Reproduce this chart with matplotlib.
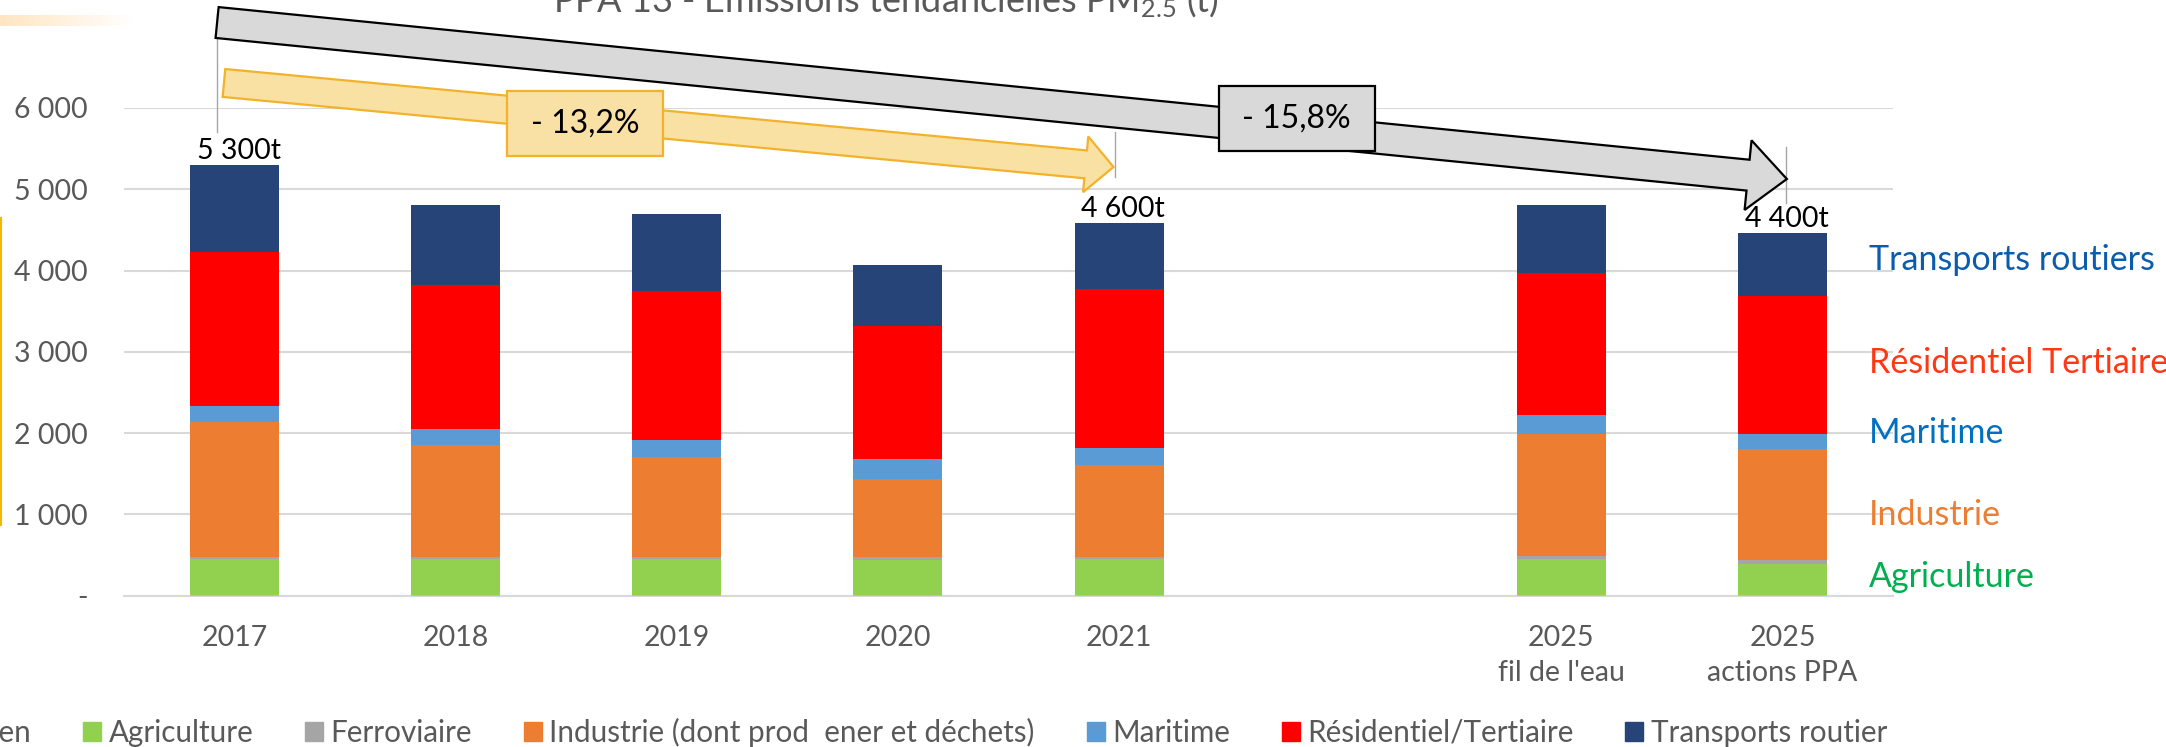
import numpy as np
import matplotlib.pyplot as plt
from matplotlib.patches import Polygon, Rectangle, Patch
from matplotlib.lines import Line2D
from matplotlib.transforms import IdentityTransform

plt.rcParams['font.family'] = ['Lato', 'DejaVu Sans']
plt.rcParams['mathtext.fontset'] = 'custom'
plt.rcParams['mathtext.rm'] = 'Lato'
plt.rcParams['mathtext.it'] = 'Lato:italic'

# ---- data (t of PM2.5) ----
categories = ["2017", "2018", "2019", "2020", "2021", "", "2025\nfil de l'eau", "2025\nactions PPA"]
aerien      = [3, 3, 3, 2, 3, 0, 3, 3]
agriculture = [443, 445, 445, 433, 441, 0, 445, 381]
ferroviaire = [33, 25, 25, 37, 29, 0, 41, 49]
industrie   = [1660, 1374, 1231, 964, 1136, 0, 1498, 1366]
maritime    = [189, 201, 204, 242, 209, 0, 229, 193]
residentiel = [1902, 1773, 1843, 1637, 1954, 0, 1752, 1697]
transports  = [1063, 984, 943, 751, 816, 0, 841, 767]

total_labels = {0: "5 300t", 4: "4 600t", 7: "4 400t"}

series_names = ["Aérien", "Agriculture", "Ferroviaire", "Industrie (dont prod  ener et déchets)",
                "Maritime", "Résidentiel/Tertiaire", "Transports routier"]
series_vals = [aerien, agriculture, ferroviaire, industrie, maritime, residentiel, transports]
series_cols = ["#FFC000", "#92D050", "#A5A5A5", "#ED7D31", "#5B9BD5", "#FF0000", "#264478"]

side_labels = ["Transports routiers", "Résidentiel Tertiaire", "Maritime", "Industrie", "Agriculture"]
side_values = [4126, 2862, 2000, 991, 228]
side_colors = ["#0B5CAD", "#FF3814", "#0070C0", "#ED7D31", "#00B050"]

W, H = 2166, 747
GREY = "#595959"

fig = plt.figure(figsize=(W / 100, H / 100), dpi=100)
ax = fig.add_axes([124 / W, (H - 595.5) / H, 1769 / W, 487.5 / H])

x = np.arange(len(categories))
bottom = np.zeros(len(categories))
for name, vals, col in zip(series_names, series_vals, series_cols):
    ax.bar(x, vals, 0.403, bottom=bottom, color=col, label=name, linewidth=0, zorder=3)
    bottom += np.array(vals)

ax.set_xlim(-0.5, len(categories) - 0.5)
ax.set_ylim(0, 6000)
ax.set_yticks(range(0, 6001, 1000))
ax.set_yticklabels(["-" if v == 0 else f"{v:,}".replace(",", " ") for v in range(0, 6001, 1000)])
ticks = [i for i, c in enumerate(categories) if c]
ax.set_xticks(ticks, [categories[i] for i in ticks], linespacing=1.45)
ax.tick_params(length=0, labelsize=20.5, colors=GREY)
ax.tick_params(axis='y', pad=26)
ax.tick_params(axis='x', pad=21)
ax.yaxis.grid(True, color="#D9D9D9", lw=1.5)
ax.set_axisbelow(True)
for s in ["top", "right", "left"]:
    ax.spines[s].set_visible(False)
ax.spines["bottom"].set_color("#D9D9D9")
ax.spines["bottom"].set_linewidth(1.5)

# totals above bars
for i, txt in total_labels.items():
    ax.annotate(txt, (i, bottom[i]), xytext=(4, 6), textcoords="offset pixels",
                ha="center", va="baseline", fontsize=20.5, color="black", annotation_clip=False)

# side labels
for lab, v, c in zip(side_labels, side_values, side_colors):
    ax.text(7.39, v, lab, color=c, fontsize=24.5, va="center", ha="left", clip_on=False)

# legend
handles = [Patch(color=c) for c in series_cols]
fig.legend(handles, series_names, ncol=7, loc="center right", bbox_to_anchor=(1887 / W, 15 / H),
           frameon=False, fontsize=21.3, labelcolor=GREY, handlelength=0.61, handleheight=0.61,
           handletextpad=0.25, columnspacing=1.75, borderpad=0, borderaxespad=0)

# title (cut by the top edge in the source)
fig.text(886 / W, 1 - 12 / H, r"PPA 13 - Emissions tendancielles PM$_{\mathrm{2.5}}$ (t)",
         ha="center", va="baseline", fontsize=26, color=GREY)


def px(xd, yd):
    return ax.transData.transform((xd, yd))


def block_arrow(p0, p1, body, head_w, head_l, **kw):
    p0 = px(*p0)
    p1 = px(*p1)
    d = p1 - p0
    u = d / np.hypot(*d)
    n = np.array([-u[1], u[0]])
    base = p1 - u * head_l
    pts = [p0 + n * body / 2, base + n * body / 2, base + n * head_w / 2, p1,
           base - n * head_w / 2, base - n * body / 2, p0 - n * body / 2]
    fig.add_artist(Polygon(pts, closed=True, transform=IdentityTransform(), **kw))


def label_box(center, w, h, text, fc, ec):
    cx, cy = px(*center)
    fig.add_artist(Rectangle((cx - w / 2, cy - h / 2), w, h, transform=IdentityTransform(),
                             facecolor=fc, edgecolor=ec, lw=1.6, zorder=5))
    fig.text(cx / W, cy / H, text, ha="center", va="center", fontsize=23, color="black", zorder=6)


# leader lines
for (x0, y0, y1) in [(-0.079, 7157, 5705), (3.98, 5705, 5151), (7.016, 5520, 4831)]:
    ax.add_line(Line2D([x0, x0], [y0, y1], color="#A6A6A6", lw=1, clip_on=False, zorder=4))

# trend arrows
block_arrow((-0.079, 7052), (7.02, 5126), 31, 70, 39,
            facecolor="#D9D9D9", edgecolor="black", lw=1.6, zorder=4)
block_arrow((-0.048, 6308), (3.975, 5274), 28, 56, 28,
            facecolor="#F9E0A3", edgecolor="#F2B22A", lw=1.6, zorder=4)
label_box((1.586, 5809), 156, 65, "- 13,2%", "#F9E1A5", "#F2B22A")
label_box((4.803, 5871), 156, 65, "- 15,8%", "#D9D9D9", "black")

# slide decorations
gax = fig.add_axes([0, 1 - 26 / H, 134 / W, 11 / H])
grad = np.ones((1, 256, 3))
t = np.linspace(0, 1, 256)
grad[0, :, 0] = 1.0
grad[0, :, 1] = 0.90 + 0.10 * t
grad[0, :, 2] = 0.76 + 0.24 * t
gax.imshow(grad, aspect="auto", extent=(0, 1, 0, 1))
gax.axis("off")
fig.add_artist(Line2D([1 / W, 1 / W], [1 - 218 / H, 1 - 525 / H], color="#F5B800", lw=1.5,
                      transform=fig.transFigure))

fig.savefig("out.png", dpi=100)
